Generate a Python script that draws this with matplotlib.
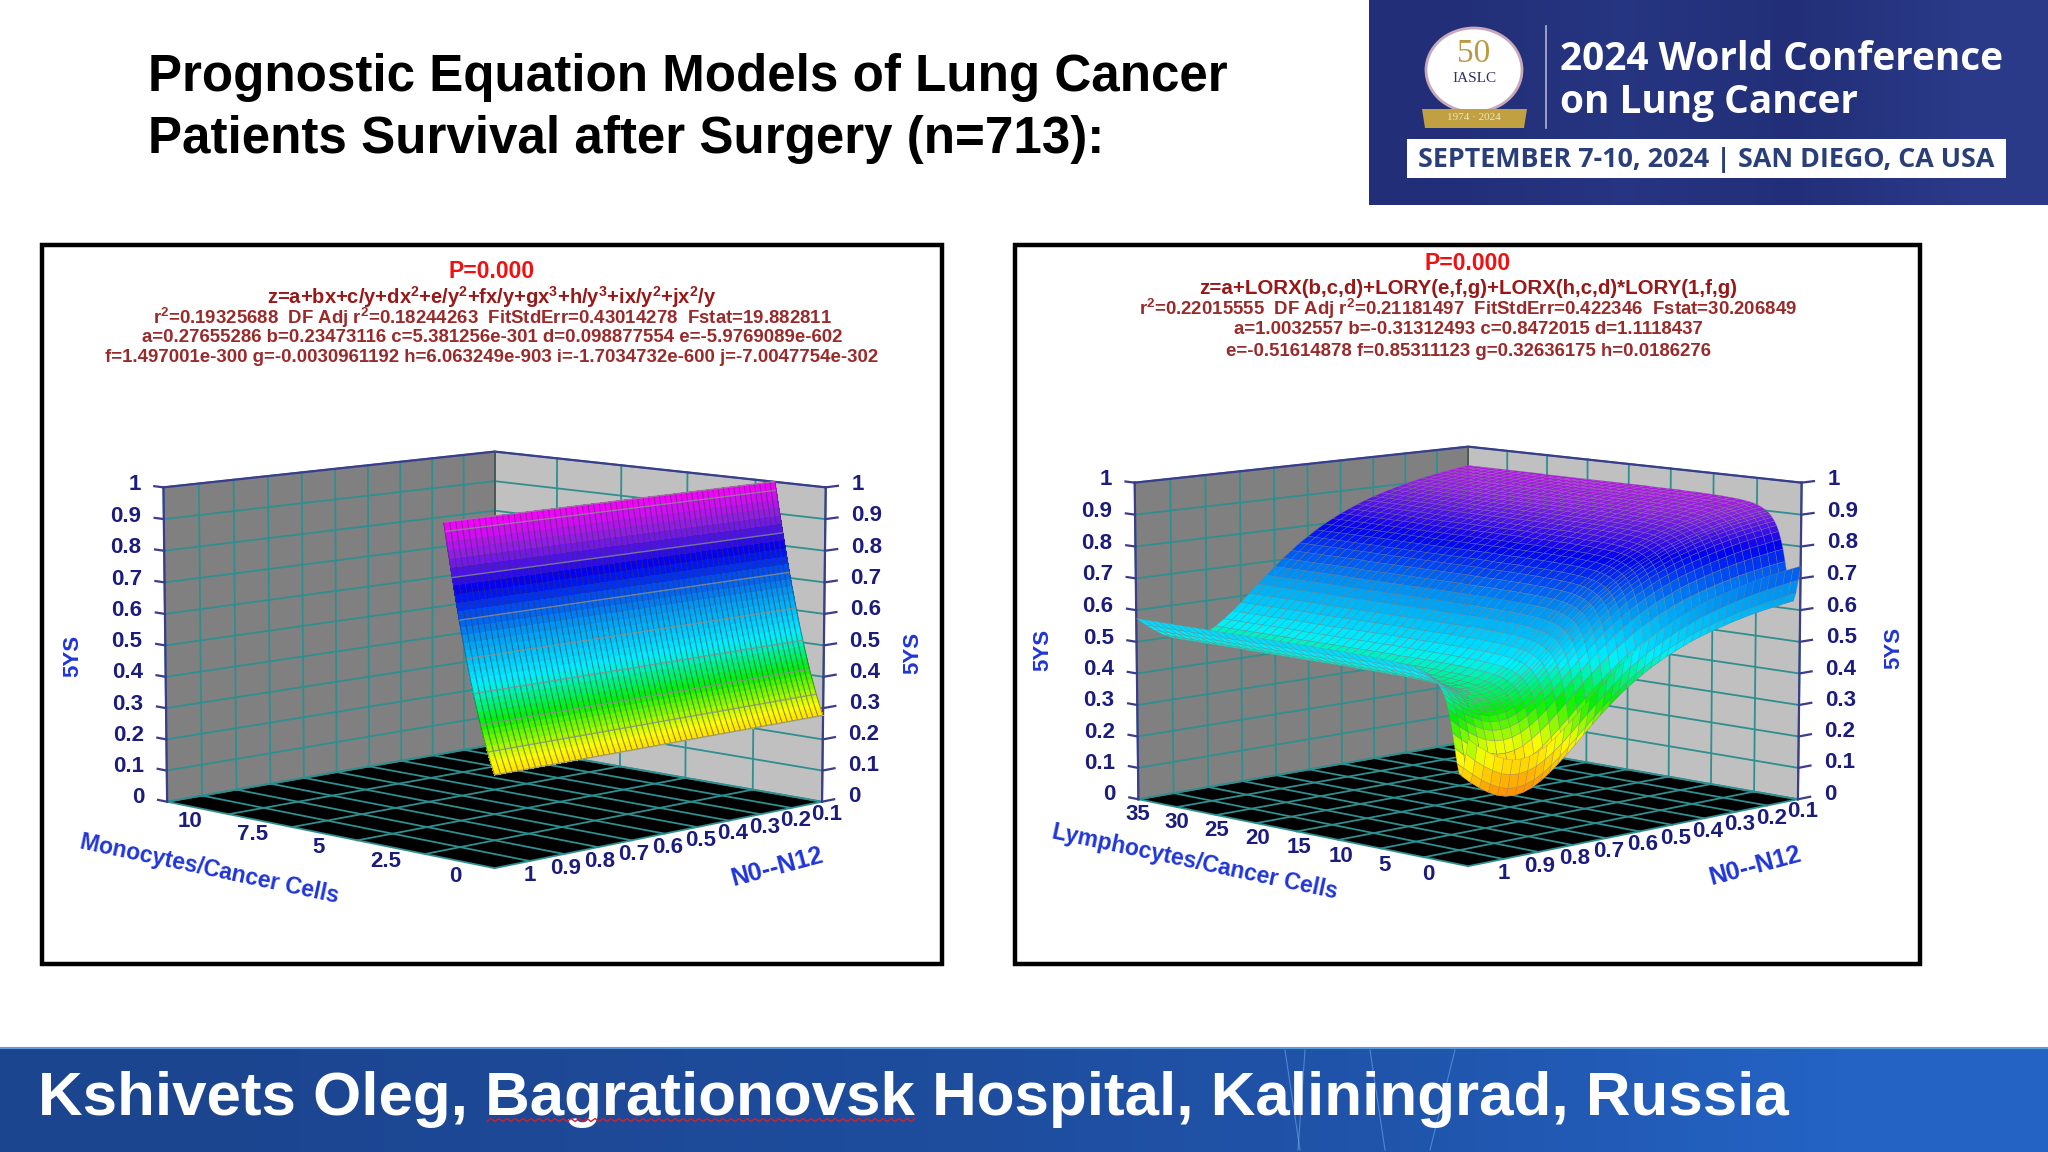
import numpy as np
import matplotlib
matplotlib.use("Agg")
import matplotlib.pyplot as plt
from matplotlib.colors import LinearSegmentedColormap
from matplotlib.patches import Ellipse, Polygon, Rectangle

plt.rcParams['font.family'] = ['Liberation Sans', 'DejaVu Sans']
plt.rcParams['mathtext.fontset'] = 'custom'
plt.rcParams['mathtext.rm'] = 'Liberation Sans:bold'
plt.rcParams['mathtext.default'] = 'rm'

# axes ticks
z_ticks = [0, 0.1, 0.2, 0.3, 0.4, 0.5, 0.6, 0.7, 0.8, 0.9, 1]
n_grid = [0, 0.1, 0.2, 0.3, 0.4, 0.5, 0.6, 0.7, 0.8, 0.9, 1]
n_labels = ['', '0.1', '0.2', '0.3', '0.4', '0.5', '0.6', '0.7', '0.8', '0.9', '1']
mono_grid = [0, 2.5, 5, 7.5, 10, 12.5]
mono_labels = ['0', '2.5', '5', '7.5', '10', '']
lymph_grid = [0, 5, 10, 15, 20, 25, 30, 35, 40]
lymph_labels = ['0', '5', '10', '15', '20', '25', '30', '35', '']

# left surface: height along monocytes, flat along N
mono_x = [0, .05, .1, .15, .2, .25, .3, .35, .4, .45, .5, .55, .6, .65, .7, .75, .8, .85, .9,
          .95, 1, 1.05, 1.1, 1.15, 1.2, 1.25, 1.3, 1.35, 1.4, 1.45, 1.5, 1.55, 1.6, 1.65, 1.7,
          1.75, 1.8]
mono_z = [.277, .289, .301, .314, .327, .341, .356, .371, .386, .402, .418, .435, .452, .470,
          .488, .507, .526, .546, .566, .586, .607, .629, .650, .673, .695, .718, .742, .766,
          .791, .816, .841, .867, .893, .919, .946, .974, 1.001]

# right surface: plateau level minus a dip along lymphocytes and a dip along N
lymph_level = 1.003
lymph_x = [0, .25, .5, .75, 1, 1.25, 1.5, 1.75, 2, 2.25, 2.5, 2.75, 3, 3.25, 3.5, 3.75, 4, 4.5,
           5, 5.5, 6, 7, 8, 9, 10, 11, 12, 13, 14, 15, 16, 17, 18, 19, 20, 21, 22, 23, 24, 25,
           26, 27, 28, 29, 30, 31, 32, 33, 34, 35, 36, 37, 38, 39, 40]
lymph_dip = [-.199, -.244, -.286, -.311, -.307, -.277, -.233, -.190, -.152, -.122, -.098, -.080,
             -.067, -.056, -.047, -.040, -.035, -.027, -.021, -.017, -.014, -.010, -.008, -.006,
             -.005, -.004, -.003, -.003, -.002, -.002, -.002, -.002, -.001, -.001, -.001, -.001,
             -.001, -.001, -.001, -.001, -.001, -.001, -.001, -.001, -.001, 0, 0, 0, 0, 0, 0, 0,
             0, 0, 0]
n_y = [0, .025, .05, .075, .1, .125, .15, .175, .2, .225, .25, .275, .3, .325, .35, .375, .4,
       .425, .45, .475, .5, .525, .55, .575, .6, .625, .65, .675, .7, .725, .75, .775, .8, .825,
       .85, .875, .9, .925, .95, .975, 1]
n_dip = [-.066, -.069, -.073, -.077, -.081, -.086, -.091, -.097, -.103, -.110, -.117, -.125,
         -.133, -.142, -.153, -.164, -.176, -.190, -.204, -.220, -.238, -.256, -.277, -.299,
         -.322, -.347, -.372, -.398, -.423, -.447, -.469, -.488, -.503, -.512, -.516, -.514,
         -.506, -.492, -.474, -.453, -.429]

left_head = ['P=0.000',
             'z=a+bx+c/y+dx$^{2}$+e/y$^{2}$+fx/y+gx$^{3}$+h/y$^{3}$+ix/y$^{2}$+jx$^{2}$/y',
             'r$^{2}$=0.19325688  DF Adj r$^{2}$=0.18244263  FitStdErr=0.43014278  Fstat=19.882811',
             'a=0.27655286 b=0.23473116 c=5.381256e-301 d=0.098877554 e=-5.9769089e-602',
             'f=1.497001e-300 g=-0.0030961192 h=6.063249e-903 i=-1.7034732e-600 j=-7.0047754e-302']
right_head = ['P=0.000',
              'z=a+LORX(b,c,d)+LORY(e,f,g)+LORX(h,c,d)*LORY(1,f,g)',
              'r$^{2}$=0.22015555  DF Adj r$^{2}$=0.21181497  FitStdErr=0.422346  Fstat=30.206849',
              'a=1.0032557 b=-0.31312493 c=0.8472015 d=1.1118437',
              'e=-0.51614878 f=0.85311123 g=0.32636175 h=0.0186276']

NAVY = '#1c1c7c'
BLUE = '#1f35d8'
TEAL = '#2f8f8f'
rainbow = LinearSegmentedColormap.from_list('rainbow5ys', [
    (0.0, '#ff2000'), (0.21, '#ffa000'), (0.31, '#ffff00'), (0.42, '#00f000'),
    (0.53, '#00f0ff'), (0.67, '#0090f0'), (0.8, '#0000f0'), (0.9, '#8a20e0'), (1.0, '#ff00ff')])

fig = plt.figure(figsize=(20.48, 11.52), dpi=100, facecolor='white')
bg = fig.add_axes([0, 0, 1, 1], zorder=0)
bg.axis('off')


def draw_box(rect, x_grid, x_labels):
    ax = fig.add_axes(rect, projection='3d', computed_zorder=False, zorder=2)
    ax.patch.set_alpha(0)
    ax.set_axis_off()
    x_max = x_grid[-1]
    ax.set_xlim(0, x_max)
    ax.set_ylim(0, 1)
    ax.set_zlim(0, 1)
    ax.set_box_aspect((1, 1, 0.683))
    ax.view_init(elev=8.75, azim=135)
    ax.set_proj_type('persp', focal_length=1.13)

    # walls and floor
    ax.plot_surface(np.full((2, 2), x_max), np.array([[0, 1], [0, 1]]), np.array([[0, 0], [1, 1]]),
                    color='#808080', shade=False, linewidth=0, zorder=1)
    ax.plot_surface(np.array([[0, x_max], [0, x_max]]), np.zeros((2, 2)), np.array([[0, 0], [1, 1]]),
                    color='#c0c0c0', shade=False, linewidth=0, zorder=1)
    ax.plot_surface(np.array([[0, x_max], [0, x_max]]), np.array([[0, 0], [1, 1]]), np.zeros((2, 2)),
                    color='black', shade=False, linewidth=0, zorder=1)

    # grid
    for z in z_ticks:
        ax.plot([x_max, x_max], [1, 0], [z, z], color=TEAL, lw=1.3, zorder=2)
        ax.plot([x_max, 0], [0, 0], [z, z], color=TEAL, lw=1.3, zorder=2)
    for n in n_grid:
        ax.plot([x_max, x_max], [n, n], [0, 1], color=TEAL, lw=1.3, zorder=2)
        ax.plot([0, x_max], [n, n], [0, 0], color=TEAL, lw=1.3, zorder=2)
    for x in x_grid:
        ax.plot([x, x], [0, 0], [0, 1], color=TEAL, lw=1.3, zorder=2)
        ax.plot([x, x], [0, 1], [0, 0], color=TEAL, lw=1.3, zorder=2)

    # box outline
    ax.plot([x_max, x_max, 0], [1, 0, 0], [1, 1, 1], color='#3c3c8c', lw=1.6, zorder=2)
    ax.plot([x_max, x_max], [1, 1], [0, 1], color='#3c3c8c', lw=1.6, zorder=2)
    ax.plot([0, 0], [0, 0], [0, 1], color='#3c3c8c', lw=1.6, zorder=2)
    ax.plot([x_max, x_max], [0, 0], [0, 1], color='#505050', lw=1.2, zorder=2)

    # z axis on both sides
    for z in z_ticks:
        label = '%g' % z
        ax.plot([x_max, x_max * 1.03], [1, 1], [z, z], color='#3c3c8c', lw=1.6, zorder=2)
        ax.plot([0, 0], [0, -0.04], [z, z], color='#3c3c8c', lw=1.6, zorder=2)
        ax.text(x_max * 1.075, 1, z, label, ha='right', va='center', color=NAVY,
                fontsize=16, fontweight='bold', zorder=6)
        ax.text(0, -0.085, z, label, ha='left', va='center', color=NAVY,
                fontsize=16, fontweight='bold', zorder=6)

    # floor tick labels
    for x, label in zip(x_grid, x_labels):
        ax.text(x, 1.11, 0, label, ha='center', va='center', color=NAVY, rotation=-8,
                fontsize=16, fontweight='bold', zorder=6)
    for n, label in zip(n_grid, n_labels):
        ax.text(-0.1 * x_max, n, 0, label, ha='center', va='center', color=NAVY, rotation=-8,
                fontsize=16, fontweight='bold', zorder=6)
    return ax


def header(lines, x, ys, formula_size):
    sizes = [16.5, formula_size, 13.45, 13.45, 13.45]
    colors = ['#f01010', '#981818', '#9a2a2a', '#9a2a2a', '#9a2a2a']
    for line, y, size, col in zip(lines, ys, sizes, colors):
        bg.text(x, y, line, ha='center', va='center', fontsize=size, color=col, fontweight='bold')


# slide title
bg.text(148, 77, 'Prognostic Equation Models of Lung Cancer', fontsize=36.85, fontweight='bold',
        va='center', color='black')
bg.text(148, 139, 'Patients Survival after Surgery (n=713):', fontsize=36.85, fontweight='bold',
        va='center', color='black')

# conference banner
bg.imshow([[0.0, 0.35, 0.0, 0.6]], extent=(1369, 2048, 205, 0), aspect='auto', zorder=1,
          interpolation='bilinear',
          cmap=LinearSegmentedColormap.from_list('navy', ['#222f78', '#2a3a88']))
bg.add_patch(Ellipse((1474, 70), 96, 84, fc='white', ec='#c8a8b8', lw=2, zorder=2))
bg.add_patch(Polygon([(1422, 109), (1527, 109), (1524, 128), (1425, 128)], fc='#c0a040', zorder=3))
bg.text(1474, 54, '50', family='Liberation Serif', fontsize=24, color='#b89a40', ha='center', va='center', zorder=4)
bg.text(1474, 78, 'IASLC', family='Liberation Serif', fontsize=11, color='#30306a', ha='center', va='center', zorder=4)
bg.text(1474, 118, '1974 · 2024', family='Liberation Serif', fontsize=8, color='#efe6c0', ha='center', va='center', zorder=4)
bg.plot([1546, 1546], [26, 128], color='#b0b4d0', lw=1.2, zorder=2)
bg.text(1560, 60, '2024 World Conference', family='Open Sans', fontweight='bold', fontsize=27.9,
        color='white', va='center', zorder=4)
bg.text(1560, 102, 'on Lung Cancer', family='Open Sans', fontweight='bold', fontsize=27.9,
        color='white', va='center', zorder=4)
bg.add_patch(Rectangle((1407, 139), 599, 39, fc='white', ec='none', zorder=2))
bg.text(1706, 160, 'SEPTEMBER 7-10, 2024 | SAN DIEGO, CA USA', family='Open Sans', fontweight='bold',
        fontsize=19.4, color='#2a3f78', ha='center', va='center', zorder=4)

# panel frames
for x0, x1 in [(42, 942), (1015, 1920)]:
    bg.add_patch(Rectangle((x0, 245), x1 - x0, 719, fc='white', ec='black', lw=3.2, zorder=1))

header(left_head, 492, [272, 297, 318, 338, 357], 14.5)
header(right_head, 1468, [263, 288, 309, 330, 351], 14.8)

# bottom banner
bg.imshow([[0.0, 0.15, 0.3, 0.55, 1.0]], extent=(0, 2048, 1152, 1048), aspect='auto', zorder=1,
          interpolation='bilinear',
          cmap=LinearSegmentedColormap.from_list('bar', ['#1c4590', '#2463c4']))
bg.plot([0, 2048], [1048, 1048], color='#5f9ad8', lw=1.5, zorder=2)
for x0, x1 in [(1285, 1300), (1305, 1298), (1370, 1385), (1455, 1430)]:
    bg.plot([x0, x1], [1050, 1150], color='#6fa8e8', lw=0.8, alpha=0.6, zorder=2)
bg.text(38, 1100, 'Kshivets Oleg, Bagrationovsk Hospital, Kaliningrad, Russia', color='white',
        fontsize=44.6, fontweight='bold', va='center', zorder=4)
wave_x = np.arange(487, 918, 4)
bg.plot(wave_x, 1120 + 1.5 * (-1.0) ** np.arange(len(wave_x)), color='#d02030', lw=1.0, zorder=4)
bg.set_xlim(0, 2048)
bg.set_ylim(1152, 0)

# axis titles
for x, y in [(73, 656), (913, 653), (1043, 650), (1894, 648)]:
    bg.text(x, y, '5YS', rotation=90, ha='center', va='center', color=BLUE, fontsize=16, fontweight='bold')
bg.text(209, 869, 'Monocytes/Cancer Cells', rotation=-12, ha='center', va='center', color=BLUE,
        fontsize=16.5, fontweight='bold')
bg.text(1195, 862, 'Lymphocytes/Cancer Cells', rotation=-12, ha='center', va='center', color=BLUE,
        fontsize=16.5, fontweight='bold')
for x, y in [(777, 867), (1755, 866)]:
    bg.text(x, y, 'N0--N12', rotation=15, ha='center', va='center', color=BLUE, fontsize=18,
            fontweight='bold')

# left chart
ax_left = draw_box([130 / 2048, 142 / 1152, 710 / 2048, 710 / 1152], mono_grid, mono_labels)
n_left = np.array([i / 60 for i in range(61)])
Y, X = np.meshgrid(n_left, mono_x)
Z = np.tile(np.array(mono_z)[:, None], (1, len(n_left)))
ax_left.plot_surface(X, Y, Z, cmap=rainbow, vmin=0, vmax=1, rstride=1, cstride=1, shade=False,
                     linewidth=0, antialiased=False, zorder=3)
ax_left.plot_wireframe(X, Y, Z, rstride=0, cstride=1, color=(0.25, 0.2, 0.3, 0.55), lw=0.8, zorder=4)
ax_left.plot_wireframe(X, Y, Z, rstride=5, cstride=0, color=(0.55, 0.55, 0.55, 0.8), lw=1.0, zorder=4)

# right chart
ax_right = draw_box([1101 / 2048, 143 / 1152, 715 / 2048, 715 / 1152], lymph_grid, lymph_labels)
Y, X = np.meshgrid(n_y, lymph_x)
Z = lymph_level + np.add.outer(np.array(lymph_dip), np.array(n_dip))
ax_right.plot_surface(X, Y, Z, cmap=rainbow, vmin=0, vmax=1, rstride=1, cstride=1, shade=False,
                      linewidth=0.4, edgecolor=(0.5, 0.5, 0.55, 0.5), zorder=3)

fig.savefig('out.png', dpi=100)
